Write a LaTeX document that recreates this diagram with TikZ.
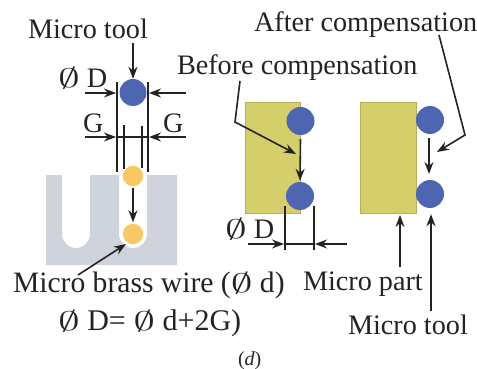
\documentclass[tikz,border=0pt]{standalone}
\usepackage{fontspec}
\setmainfont{Liberation Serif}
\usetikzlibrary{arrows.meta}
\definecolor{toolblue}{RGB}{78,101,178}
\definecolor{wirey}{RGB}{248,200,98}
\definecolor{partc}{RGB}{212,207,106}
\definecolor{blockc}{RGB}{206,211,220}
\definecolor{inkc}{RGB}{35,35,35}
\newcommand{\dia}{\scalebox{1.75}[1.08]{$\emptyset$}}
\tikzset{
 lbl/.style={anchor=base west,inner sep=0pt,outer sep=0pt,text=inkc,font=\fontsize{#1}{#1}\selectfont},
 lbl/.default=28.2,
 tooldot/.style={circle,fill=toolblue,inner sep=0pt,minimum size=28pt},
 wiredot/.style={circle,fill=wirey,draw=white,line width=0.4pt,inner sep=0pt,minimum size=21pt},
 partbox/.style={fill=partc,draw=partc!85!black,line width=0.4pt},
 arr/.style={draw=inkc,line width=1.6pt,-{Stealth[length=12pt,width=9pt]}},
 lin/.style={draw=inkc,line width=1.4pt}
}
\begin{document}
\begin{tikzpicture}[x=1pt,y=-1pt]
\useasboundingbox (0,0) rectangle (477,369);
% slotted block
\fill[blockc] (46,175) -- (62,175) -- (62,234) arc[start angle=180,end angle=0,radius=14] -- (90,175)
  -- (119,175) -- (119,234) arc[start angle=180,end angle=0,radius=14] -- (147,175) -- (177,175) -- (177,265) -- (46,265) -- cycle;
% left: tool and wires
\node[tooldot,minimum size=27pt] (topTool) at (133,92.5) {};
\node[wiredot] (wireA) at (133,176) {};
\node[wiredot] (wireB) at (133,234) {};
\node[lbl] (toolTop) at (28,39) {Micro tool};
\node[lbl=29.6] (wireLbl) at (13,292) {Micro brass wire (\dia\ d)};
\node[lbl=30] (formula) at (58,330) {\dia\ D= \dia\ d+2G)};
\node[lbl] (dTop) at (58,88) {\dia\ D};
\node[lbl] (gL) at (83,132) {G};
\node[lbl] (gR) at (163,132) {G};
\coordinate (tA) at (133,43);
\draw[arr] (tA) -- (topTool.north);
\coordinate (vLa) at (117,82); \coordinate (vLb) at (117,172);
\coordinate (vRa) at (148,82); \coordinate (vRb) at (148,172);
\draw[lin] (vLa) -- (vLb); \draw[lin] (vRa) -- (vRb);
\coordinate (iLa) at (124,125); \coordinate (iLb) at (124,169);
\coordinate (iRa) at (142,126); \coordinate (iRb) at (142,168);
\draw[lin] (iLa) -- (iLb); \draw[lin] (iRa) -- (iRb);
\coordinate (dL0) at (85,93); \coordinate (dL1) at (116,93);
\coordinate (dR0) at (186,93); \coordinate (dR1) at (149,93);
\draw[arr] (dL0) -- (dL1); \draw[arr] (dR0) -- (dR1);
\coordinate (gL0) at (85,137); \coordinate (gL1) at (116,137);
\coordinate (gR0) at (186,137); \coordinate (gR1) at (149,137);
\draw[arr] (gL0) -- (gL1); \draw[arr] (gR0) -- (gR1);
\draw[lin] (gL1) -- (gR1);
\draw[arr] (wireA.south) ++(0,1) -- ([yshift=1pt]wireB.north);
\coordinate (wT) at (78,275);
\coordinate (wE) at (126,244);
\draw[arr] (wT) -- (wE);
% middle part
\path[partbox] (245,102) rectangle (300,213);
\node[tooldot] (mA) at (300.5,121) {};
\node[tooldot] (mB) at (300,196) {};
\draw[arr] ([yshift=-1pt]mA.south) ++(0,3) -- ([yshift=1pt]mB.north);
\node[lbl] (before) at (177,75) {Before compensation};
\coordinate (bA) at (240,81); \coordinate (bB) at (235,122); \coordinate (bC) at (296,154);
\draw[arr] (bA) -- (bB) -- (bC);
\node[lbl] (dMid) at (225,238) {\dia\ D};
\coordinate (mvLa) at (285,206); \coordinate (mvLb) at (285,250);
\coordinate (mvRa) at (314,206); \coordinate (mvRb) at (314,250);
\draw[lin] (mvLa) -- (mvLb); \draw[lin] (mvRa) -- (mvRb);
\coordinate (mdL0) at (248,244); \coordinate (mdL1) at (284,244);
\coordinate (mdR0) at (347,244); \coordinate (mdR1) at (315,244);
\draw[arr] (mdL0) -- (mdL1); \draw[arr] (mdR0) -- (mdR1);
\draw[lin] (mdL1) -- (mdR1);
% right part
\path[partbox] (360,102) rectangle (416,213);
\node[tooldot] (rA) at (430,120) {};
\node[tooldot] (rB) at (430,194) {};
\coordinate (rS) at (429,138); \coordinate (rE) at (429,174);
\draw[arr] (rS) -- (rE);
\node[lbl] (after) at (254,32) {After compensation};
\coordinate (aA) at (439,35); \coordinate (aB) at (465,135); \coordinate (aC) at (437,152);
\draw[arr] (aA) -- (aB) -- (aC);
\node[lbl] (partLbl) at (303,290) {Micro part};
\node[lbl] (toolBot) at (348,334) {Micro tool};
\coordinate (pA) at (400,267); \coordinate (pB) at (400,215);
\draw[arr] (pA) -- (pB);
\coordinate (qA) at (431,311);
\draw[arr] (qA) -- ([yshift=-6pt]rB.south -| qA);
\node[lbl=20] (cap) at (238,365) {(\textit{d})};
\end{tikzpicture}
\end{document}
